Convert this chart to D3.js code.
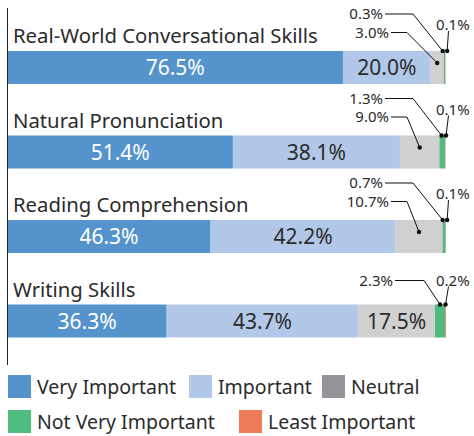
<!DOCTYPE html>
<html>
<head>
<meta charset="utf-8">
<script src="https://cdn.jsdelivr.net/npm/d3@7"></script>
<style>
  body { margin: 0; background: #fff; }
  text { font-family: "Noto Sans", "Open Sans", sans-serif; fill: #2b2b2b; }
</style>
</head>
<body>
<div id="main"></div>
<script>
// data
const skills = ["Real-World Conversational Skills", "Natural Pronunciation", "Reading Comprehension", "Writing Skills"];
const levels = ["Very Important", "Important", "Neutral", "Not Very Important", "Least Important"];
const veryImportant = [76.5, 51.4, 46.3, 36.3];
const important = [20.0, 38.1, 42.2, 43.7];
const neutral = [3.0, 9.0, 10.7, 17.5];
const notVeryImportant = [0.3, 1.3, 0.7, 2.3];
const leastImportant = [0.1, 0.1, 0.1, 0.2];

const ctx = {
    w: 474,
    h: 436,
    colors: ["#5593cc", "#b2c8e8", "#d0d0d0", "#4fbc80", "#f07b5a"],
    legendColors: ["#5593cc", "#b2c8e8", "#939598", "#4fbc80", "#f07b5a"],
    barTop: 51,
    barStep: 84.5,
    barH: 33,
};

function createViz(){
    let svgEl = d3.select("#main").append("svg")
        .attr("width", ctx.w).attr("height", ctx.h);
    let rootG = svgEl.append("g").attr("id", "rootG");

    const series = [veryImportant, important, neutral, notVeryImportant, leastImportant];
    const rows = skills.map((s, i) => {
        let r = {skill: s};
        levels.forEach((l, j) => r[l] = series[j][i]);
        return r;
    });
    const stacked = d3.stack().keys(levels)(rows);

    ctx.xScale = d3.scaleLinear().domain([0, 100]).range([7.5, 446]);
    ctx.yScale = d3.scalePoint().domain(skills)
        .range([ctx.barTop, ctx.barTop + ctx.barStep * (skills.length - 1)]);

    // bars
    stacked.forEach((layer, j) => {
        rootG.append("g").selectAll("rect").data(layer).join("rect")
            .attr("x", d => ctx.xScale(d[0]))
            .attr("y", d => ctx.yScale(d.data.skill))
            .attr("width", d => Math.max(0, ctx.xScale(d[1]) - ctx.xScale(d[0])))
            .attr("height", ctx.barH)
            .attr("fill", ctx.colors[j]);
    });

    // skill titles
    rootG.append("g").selectAll("text").data(skills).join("text")
        .attr("x", 13)
        .attr("y", d => ctx.yScale(d) - 8)
        .style("font-size", "20.3px")
        .text(d => d);

    // inside labels (segments wide enough)
    stacked.forEach((layer, j) => {
        layer.forEach(d => {
            let w = ctx.xScale(d[1]) - ctx.xScale(d[0]);
            if (w < 50) return;
            rootG.append("text")
                .attr("x", (ctx.xScale(d[0]) + ctx.xScale(d[1])) / 2)
                .attr("y", ctx.yScale(d.data.skill) + ctx.barH / 2 + 7.5)
                .attr("text-anchor", "middle")
                .style("font-size", "21px")
                .style("fill", j == 0 ? "#ffffff" : "#2b2b2b")
                .text(d3.format(".1f")(d[1] - d[0]) + "%");
        });
    });

    // callouts for small segments
    let callG = rootG.append("g");
    skills.forEach((s, i) => {
        let top = ctx.yScale(s);
        let nv = stacked[3][i], lf = stacked[4][i], ne = stacked[2][i];
        let cNv = (ctx.xScale(nv[0]) + ctx.xScale(nv[1])) / 2;
        let cLf = (ctx.xScale(lf[0]) + ctx.xScale(lf[1])) / 2;
        if (cLf - cNv < 4.5) {
            let mid = (cNv + cLf) / 2;
            cNv = mid - 2.25; cLf = mid + 2.25;
        }
        let neutralInside = (ctx.xScale(ne[1]) - ctx.xScale(ne[0])) >= 50;
        let items = [];
        if (!neutralInside) {
            items.push({v: ne[1] - ne[0], dot: [(ctx.xScale(ne[0]) + ctx.xScale(ne[1])) / 2, top + 12],
                        ly: top - 18.5, lx: 389, elbow: 407});
            items.push({v: nv[1] - nv[0], dot: [cNv, top], ly: top - 37, lx: 383, elbow: 413});
        } else {
            items.push({v: nv[1] - nv[0], dot: [cNv, top], ly: top - 24, lx: 393, elbow: 424});
        }
        items.forEach(it => {
            callG.append("text")
                .attr("x", it.lx).attr("y", it.ly + 5)
                .attr("text-anchor", "end")
                .style("font-size", "15px")
                .text(d3.format(".1f")(it.v) + "%");
            callG.append("path")
                .attr("d", d3.line()([[it.lx + 2, it.ly], [it.elbow, it.ly], it.dot]))
                .attr("fill", "none").attr("stroke", "#111").attr("stroke-width", 1);
            callG.append("circle").attr("cx", it.dot[0]).attr("cy", it.dot[1])
                .attr("r", 2.2).attr("fill", "#111");
        });
        // least important callout on the right
        let ly = neutralInside ? top - 24 : top - 26;
        callG.append("text")
            .attr("x", 436).attr("y", ly + 5)
            .style("font-size", "15px")
            .text(d3.format(".1f")(lf[1] - lf[0]) + "%");
        callG.append("path")
            .attr("d", d3.line()([[448.5, ly + 6], [cLf, top]]))
            .attr("fill", "none").attr("stroke", "#111").attr("stroke-width", 1);
        callG.append("circle").attr("cx", cLf).attr("cy", top)
            .attr("r", 2.2).attr("fill", "#111");
    });

    // left axis line
    rootG.append("line")
        .attr("x1", 7.5).attr("x2", 7.5).attr("y1", 8).attr("y2", 365)
        .attr("stroke", "#222").attr("stroke-width", 1);

    // legend
    const legendPos = [[8, 375], [189, 375], [322, 375], [8, 410], [239, 410]];
    let legG = rootG.append("g");
    levels.forEach((l, j) => {
        let g = legG.append("g").attr("transform", `translate(${legendPos[j][0]},${legendPos[j][1]})`);
        g.append("rect").attr("width", 23).attr("height", 23).attr("fill", ctx.legendColors[j]);
        g.append("text").attr("x", 29).attr("y", 18.5)
            .style("font-size", "19.5px").text(l);
    });
}

createViz();
</script>
</body>
</html>
